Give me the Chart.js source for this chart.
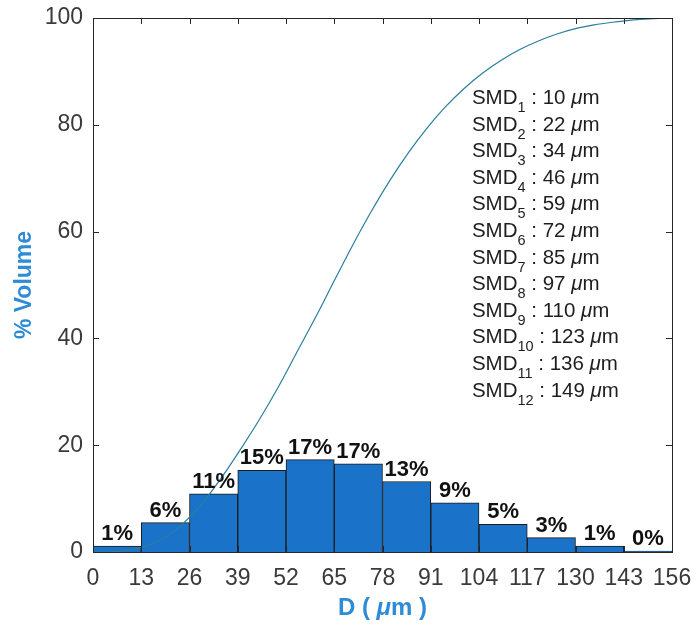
<!DOCTYPE html>
<html>
<head>
<meta charset="utf-8">
<script src="https://cdn.jsdelivr.net/npm/chart.js@4"></script>
<style>
  html, body { margin: 0; padding: 0; background: #ffffff; }
  canvas { display: block; }
</style>
</head>
<body>
<canvas id="chart" width="697" height="628"></canvas>
<script>
// Droplet size bins (µm) and the volume share of each bin (%)
const binEdges = [0, 13, 26, 39, 52, 65, 78, 91, 104, 117, 130, 143, 156];
const binVolume = [1.1, 5.5, 10.9, 15.3, 17.3, 16.5, 13.2, 9.2, 5.2, 2.7, 1.1, 0.15];

// Cumulative volume curve
const cumDiameter = [0, 5, 10, 15, 20, 25, 30, 35, 40, 45, 50, 55, 60, 65, 70, 75, 80, 85, 90, 95, 100, 105, 110, 115, 120, 125, 130, 135, 140, 145, 150, 156];
const cumVolume   = [0, 0.05, 0.35, 1.3, 3, 5.8, 9.6, 14.3, 19.5, 25, 31, 37.5, 44, 50.8, 57.5, 63.8, 69.6, 74.8, 79.4, 83.4, 86.8, 89.7, 92.1, 94.1, 95.7, 97, 98, 98.7, 99.2, 99.6, 99.85, 100];

// Sauter mean diameter of each bin (µm)
const smdIndex = ['1', '2', '3', '4', '5', '6', '7', '8', '9', '10', '11', '12'];
const smdValue = [10, 22, 34, 46, 59, 72, 85, 97, 110, 123, 136, 149];

const yTicks = [0, 20, 40, 60, 80, 100];

const barColor = '#1a72c9';
const curveColor = '#2a7ea0';
const titleColor = '#2e8bd6';
const axisColor = '#262626';
const fontFamily = 'Liberation Sans, Arial, sans-serif';
const tickFont = { family: fontFamily, size: 23 };

const barData = binVolume.map((v, i) => ({ x: (binEdges[i] + binEdges[i + 1]) / 2, y: v }));
const curveData = cumDiameter.map((d, i) => ({ x: d, y: cumVolume[i] }));

// Box around the plot with inward tick marks on all four sides
const boxPlugin = {
  id: 'box',
  afterDatasetsDraw(chart) {
    const { ctx, chartArea: a, scales: { x, y } } = chart;
    const len = 6;
    ctx.save();
    ctx.strokeStyle = axisColor;
    ctx.lineWidth = 1;
    ctx.beginPath();
    binEdges.forEach(v => {
      const px = Math.round(x.getPixelForValue(v)) + 0.5;
      ctx.moveTo(px, a.bottom); ctx.lineTo(px, a.bottom - len);
      ctx.moveTo(px, a.top); ctx.lineTo(px, a.top + len);
    });
    yTicks.forEach(v => {
      const py = Math.round(y.getPixelForValue(v)) + 0.5;
      ctx.moveTo(a.left, py); ctx.lineTo(a.left + len, py);
      ctx.moveTo(a.right, py); ctx.lineTo(a.right - len, py);
    });
    ctx.stroke();
    ctx.strokeRect(Math.round(a.left) + 0.5, Math.round(a.top) + 0.5,
                   Math.round(a.right - a.left), Math.round(a.bottom - a.top));
    ctx.restore();
  }
};

// Percentage labels above each bar
const barLabelPlugin = {
  id: 'barLabels',
  afterDatasetsDraw(chart) {
    const { ctx } = chart;
    const meta = chart.getDatasetMeta(1);
    ctx.save();
    ctx.font = 'bold 22px ' + fontFamily;
    ctx.fillStyle = '#111111';
    ctx.textAlign = 'center';
    ctx.textBaseline = 'alphabetic';
    meta.data.forEach((bar, i) => {
      ctx.fillText(Math.round(binVolume[i]) + '%', bar.x, bar.y - 6);
    });
    ctx.restore();
  }
};

// SMD list with subscripts, and the two axis titles
const textPlugin = {
  id: 'texts',
  afterDraw(chart) {
    const { ctx, chartArea: a, scales: { x, y } } = chart;
    ctx.save();
    const left = x.getPixelForValue(102.1);
    let base = y.getPixelForValue(83.9);
    const step = 26.6;
    const main = '20.5px ' + fontFamily;
    const sub = '14.5px ' + fontFamily;
    ctx.fillStyle = '#1e1e1e';
    ctx.textBaseline = 'alphabetic';
    ctx.textAlign = 'left';
    smdValue.forEach((v, i) => {
      let cx = left;
      ctx.font = main;
      ctx.fillText('SMD', cx, base);
      cx += ctx.measureText('SMD').width;
      ctx.font = sub;
      ctx.fillText(smdIndex[i], cx, base + 8);
      cx += ctx.measureText(smdIndex[i]).width;
      ctx.font = main;
      const mid = ' : ' + v + ' ';
      ctx.fillText(mid, cx, base);
      cx += ctx.measureText(mid).width;
      ctx.font = 'italic ' + main;
      ctx.fillText('\u03bc', cx, base);
      cx += ctx.measureText('\u03bc').width;
      ctx.font = main;
      ctx.fillText('m', cx, base);
      base += step;
    });

    // x-axis title with italic µ
    ctx.fillStyle = titleColor;
    const parts = [['bold 24px ', 'D ( '], ['italic bold 24px ', '\u03bc'], ['bold 24px ', 'm )']];
    let total = 0;
    parts.forEach(p => { ctx.font = p[0] + fontFamily; total += ctx.measureText(p[1]).width; });
    let tx = (a.left + a.right) / 2 - total / 2;
    const ty = 615;
    parts.forEach(p => {
      ctx.font = p[0] + fontFamily;
      ctx.fillText(p[1], tx, ty);
      tx += ctx.measureText(p[1]).width;
    });

    // y-axis title
    ctx.translate(25, (a.top + a.bottom) / 2);
    ctx.rotate(-Math.PI / 2);
    ctx.textAlign = 'center';
    ctx.textBaseline = 'middle';
    ctx.font = 'bold 23px ' + fontFamily;
    ctx.fillText('% Volume', 0, 0);
    ctx.restore();
  }
};

new Chart(document.getElementById('chart'), {
  type: 'bar',
  data: {
    datasets: [
      {
        type: 'line',
        label: 'Cumulative volume',
        data: curveData,
        borderColor: curveColor,
        borderWidth: 1.2,
        pointRadius: 0,
        cubicInterpolationMode: 'monotone',
        fill: false,
        order: 0
      },
      {
        type: 'bar',
        label: 'Volume',
        data: barData,
        backgroundColor: barColor,
        borderColor: '#1b1b1b',
        borderWidth: 1,
        barPercentage: 1,
        categoryPercentage: 1,
        order: 1
      }
    ]
  },
  options: {
    responsive: false,
    animation: false,
    devicePixelRatio: 1,
    layout: { padding: { left: 0, right: 25, top: 18, bottom: 0 } },
    plugins: { legend: { display: false }, tooltip: { enabled: false } },
    scales: {
      x: {
        type: 'linear',
        min: 0, max: 156,
        offset: false,
        grid: { display: false, drawTicks: false },
        border: { display: false },
        afterBuildTicks: s => { s.ticks = binEdges.map(v => ({ value: v })); },
        afterFit: s => { s.height = 76; s.paddingLeft = 0; s.paddingRight = 0; },
        ticks: { font: tickFont, color: '#3a3a3a', padding: 13, maxRotation: 0, autoSkip: false }
      },
      y: {
        min: 0, max: 100,
        grid: { display: false, drawTicks: false },
        border: { display: false },
        afterBuildTicks: s => { s.ticks = yTicks.map(v => ({ value: v })); },
        afterFit: s => { s.width = 93; s.paddingTop = 0; s.paddingBottom = 0; },
        ticks: { font: tickFont, color: '#3a3a3a', padding: 10 }
      }
    }
  },
  plugins: [boxPlugin, barLabelPlugin, textPlugin]
});
</script>
</body>
</html>
